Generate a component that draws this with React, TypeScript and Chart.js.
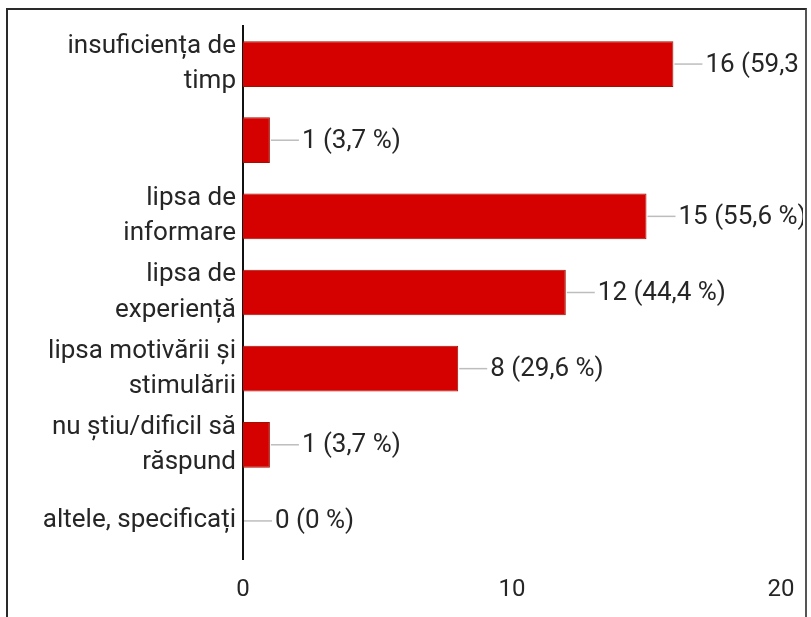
import React, { useEffect, useRef } from "react";
import { Chart, registerables } from "chart.js";

Chart.register(...registerables);

const categories: (string | string[])[] = [
  ["insuficiența de", "timp"],
  "",
  ["lipsa de", "informare"],
  ["lipsa de", "experiență"],
  ["lipsa motivării și", "stimulării"],
  ["nu știu/dificil să", "răspund"],
  "altele, specificați",
];
const counts = [16, 1, 15, 12, 8, 1, 0];
const percents = ["59,3", "3,7", "55,6", "44,4", "29,6", "3,7", "0"];
const xTicks = [0, 10, 20];

const FONT = "Roboto, 'Noto Sans', sans-serif";

const labelPlugin = {
  id: "leaderLabels",
  afterDatasetsDraw(chart: any) {
    const ctx = chart.ctx;
    const meta = chart.getDatasetMeta(0);
    ctx.save();
    meta.data.forEach((el: any, i: number) => {
      const x = el.x;
      const y = el.y;
      ctx.strokeStyle = "#bdbdbd";
      ctx.lineWidth = 1.5;
      ctx.beginPath();
      ctx.moveTo(x + 1, y);
      ctx.lineTo(x + 29, y);
      ctx.stroke();
      ctx.fillStyle = "#262626";
      ctx.font = `26px ${FONT}`;
      ctx.textAlign = "left";
      ctx.textBaseline = "middle";
      ctx.fillText(`${counts[i]} (${percents[i]} %)`, x + 32, y + 1);
    });
    ctx.restore();
  },
};

export default function App() {
  const ref = useRef<HTMLCanvasElement>(null);
  useEffect(() => {
    if (!ref.current) return;
    const chart = new Chart(ref.current, {
      type: "bar",
      data: {
        labels: categories,
        datasets: [
          {
            data: counts,
            backgroundColor: "#d50000",
            borderColor: "#a31000",
            borderWidth: 1,
            barPercentage: 0.6,
            categoryPercentage: 1,
          },
        ],
      },
      options: {
        indexAxis: "y",
        animation: false,
        responsive: false,
        layout: { padding: { top: 16, right: 22, left: 0, bottom: 0 } },
        plugins: {
          legend: { display: false },
          tooltip: { enabled: false },
        },
        scales: {
          x: {
            min: 0,
            max: 20,
            afterBuildTicks: (s: any) => {
              s.ticks = xTicks.map((v) => ({ value: v }));
            },
            afterFit: (s: any) => {
              s.height = 58;
              s.paddingLeft = 0;
              s.paddingRight = 0;
            },
            grid: { display: false, drawTicks: false },
            border: { display: false },
            ticks: {
              padding: 17,
              color: "#262626",
              font: { family: FONT, size: 24 },
              maxRotation: 0,
            },
          },
          y: {
            afterFit: (s: any) => {
              s.width = 235;
              s.paddingTop = 0;
              s.paddingBottom = 0;
            },
            grid: { display: false, drawTicks: false },
            border: { display: true, color: "#111111", width: 2 },
            ticks: {
              padding: 7,
              color: "#262626",
              font: { family: FONT, size: 26, lineHeight: 1.35 },
            },
          },
        },
      },
      plugins: [labelPlugin],
    });
    return () => chart.destroy();
  }, []);

  return (
    <div
      style={{
        position: "fixed",
        left: 0,
        top: 0,
        width: 811,
        height: 617,
        background: "#ffffff",
        overflow: "hidden",
      }}
    >
      <div
        style={{
          position: "absolute",
          left: 6,
          top: 8,
          width: 797,
          height: 640,
          borderLeft: "2px solid #2a2a2a",
          borderTop: "2px solid #2a2a2a",
          borderRight: "2px solid #555555",
        }}
      />
      <canvas
        ref={ref}
        width={795}
        height={607}
        style={{ position: "absolute", left: 8, top: 10, width: 795, height: 607 }}
      />
    </div>
  );
}
